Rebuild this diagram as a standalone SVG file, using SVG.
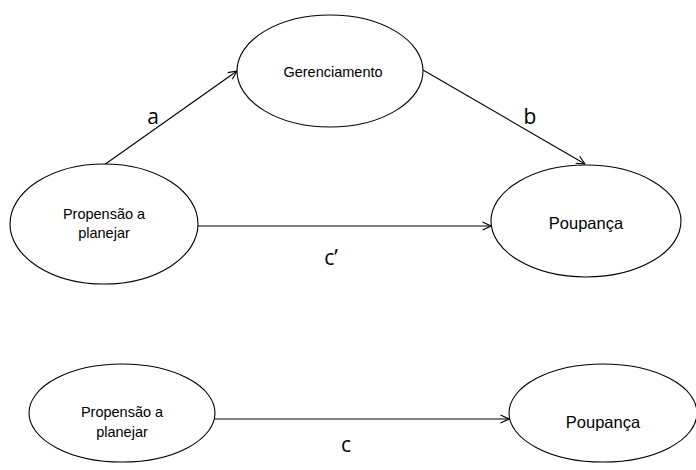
<svg xmlns="http://www.w3.org/2000/svg" width="696" height="470" viewBox="0 0 696 470">
<defs>
<marker id="arr" viewBox="0 0 10 10" refX="9.5" refY="5" markerWidth="10" markerHeight="10" markerUnits="userSpaceOnUse" orient="auto">
<path d="M1,1 L9.5,5 L1,9" fill="none" stroke="#000" stroke-width="1.1"/>
</marker>
</defs>
<style>
.n{fill:#fff;stroke:#000;stroke-width:1.1}
.t{font-family:"Liberation Sans",Arial,sans-serif;font-size:14.5px;fill:#000;text-anchor:middle}
.l{font-family:"Open Sans","Liberation Sans",sans-serif;font-size:21px;fill:#000;text-anchor:middle}
.c{fill:none;stroke:#000;stroke-width:1.1;marker-end:url(#arr)}
</style>
<rect width="696" height="470" fill="#fff"/>
<g id="connectors">
<line class="c" x1="104" y1="165" x2="237" y2="71"/>
<line class="c" x1="423" y1="70" x2="585" y2="164"/>
<line class="c" x1="198" y1="226" x2="491" y2="226"/>
<line class="c" x1="215" y1="419" x2="509" y2="419"/>
<text class="l" x="153" y="124">a</text>
<text class="l" x="530" y="124">b</text>
<text class="l" x="331" y="265">c’</text>
<text class="l" x="346" y="452">c</text>
</g>
<g id="gerenciamento">
<ellipse class="n" cx="330" cy="71" rx="93" ry="56"/>
<text class="t" x="333" y="77">Gerenciamento</text>
</g>
<g id="propensao1">
<ellipse class="n" cx="104" cy="224" rx="94" ry="60"/>
<text class="t" x="104" y="219">Propensão a</text>
<text class="t" x="104" y="238">planejar</text>
</g>
<g id="poupanca1">
<ellipse class="n" cx="586" cy="221" rx="95" ry="56"/>
<text class="t" x="586" y="229" style="font-size:16.5px">Poupança</text>
</g>
<g id="propensao2">
<ellipse class="n" cx="122" cy="413" rx="93" ry="49"/>
<text class="t" x="122" y="417">Propensão a</text>
<text class="t" x="122" y="437">planejar</text>
</g>
<g id="poupanca2">
<ellipse class="n" cx="603" cy="413" rx="94" ry="49"/>
<text class="t" x="603" y="428" style="font-size:16.5px">Poupança</text>
</g>
</svg>
